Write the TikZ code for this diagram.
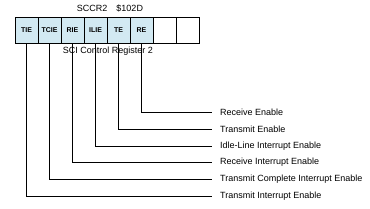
\documentclass[tikz,border=0pt]{standalone}
\usepackage{fontspec}
\setmainfont{Liberation Sans}
\usepackage{xcolor}
\usetikzlibrary{positioning}
\definecolor{bitfill}{HTML}{D2E9F2}

\begin{document}
\begin{tikzpicture}[
    x=1pt, y=-1pt,
    font=\fontsize{9}{10}\selectfont,
    bit/.style={draw, line width=0.9pt, fill=bitfill, minimum width=23pt,
                minimum height=26pt, inner sep=0pt, font=\fontsize{7}{8}\selectfont\bfseries},
    kosong/.style={bit, fill=white},
    garis/.style={line width=0.8pt},
    ket/.style={anchor=west, inner xsep=8pt, inner ysep=1pt}
  ]
    \useasboundingbox (0,0) rectangle (370,209);
    % register bits
    \node[bit] (tie)  at (26.5,30)  {TIE};
    \node[bit] (tcie) at (49.5,30)  {TCIE};
    \node[bit] (rie)  at (72.5,30)  {RIE};
    \node[bit] (ilie) at (95.5,30)  {ILIE};
    \node[bit] (te)   at (118.5,30) {TE};
    \node[bit] (re)   at (141.5,30) {RE};
    \node[kosong] (bsatu) at (164.5,30) {};
    \node[kosong] (bnol)  at (187.5,30) {};
    \node (judul) at (110,8) {SCCR2\hspace{9pt}\$102D};
    \node (nama) at (108,51) {SCI Control Register 2};
    % keterangan
    \node[ket] (kre)   at (212,112.5) {Receive Enable};
    \node[ket] (kte)   at (212,129.2) {Transmit Enable};
    \node[ket] (kilie) at (212,145.9) {Idle-Line Interrupt Enable};
    \node[ket] (krie)  at (212,162.6) {Receive Interrupt Enable};
    \node[ket] (ktcie) at (212,179.3) {Transmit Complete Interrupt Enable};
    \node[ket] (ktie)  at (212,196)   {Transmit Interrupt Enable};
    \foreach \b in {re, te, ilie, rie, tcie, tie}
      \draw[garis] (\b.south) |- (k\b.west);
  \end{tikzpicture}
\end{document}
